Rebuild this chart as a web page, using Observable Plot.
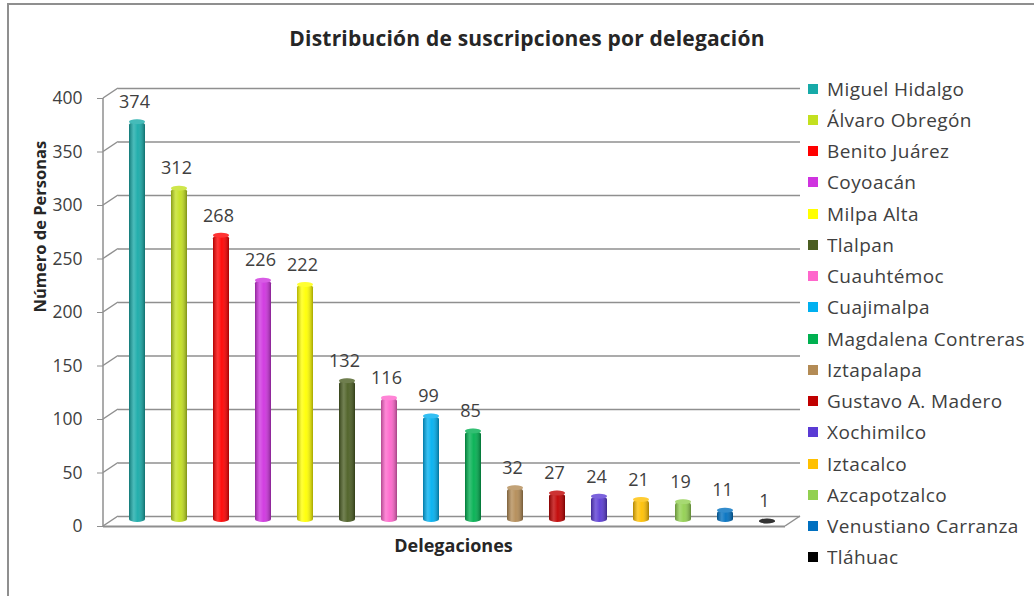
<!DOCTYPE html>
<html>
<head>
<meta charset="utf-8">
<script src="https://cdn.jsdelivr.net/npm/d3@7"></script>
<script src="https://cdn.jsdelivr.net/npm/@observablehq/plot@0.6"></script>
<style>
  html, body { margin: 0; padding: 0; background: #fff; }
  #wrap { position: relative; width: 1034px; height: 596px; overflow: hidden; background: #fff; font-family: "Open Sans", Lato, sans-serif; }
  #border { position: absolute; left: 7px; top: 3px; width: 1200px; height: 800px; border: 2px solid #8f8f8f; box-sizing: border-box; }
  #title { position: absolute; left: 0; top: 24px; width: 1054px; text-align: center; font-weight: bold; font-size: 21px; color: #262626; line-height: 28px; letter-spacing: 0.2px; }
  #chart { position: absolute; left: 0; top: 60px; }
  #legend { position: absolute; left: 808px; top: 73px; }
  #legend .lg-swatch { height: 31.25px !important; padding: 0 !important; margin: 0 !important; display: flex !important; align-items: center !important; letter-spacing: 0.4px; }
  #legend .lg-swatch svg { margin-right: 9px !important; }
</style>
</head>
<body>
<svg width="0" height="0" style="position:absolute">
  <defs>
    <linearGradient id="shine" x1="0" x2="1" y1="0" y2="0">
      <stop offset="0" stop-color="#000" stop-opacity="0.3"/>
      <stop offset="0.3" stop-color="#fff" stop-opacity="0.22"/>
      <stop offset="0.55" stop-color="#fff" stop-opacity="0.05"/>
      <stop offset="1" stop-color="#000" stop-opacity="0.35"/>
    </linearGradient>
  </defs>
</svg>
<div id="wrap">
  <div id="border"></div>
  <div id="title"></div>
  <div id="chart"></div>
  <div id="legend"></div>
</div>
<script>
const categories = ["Miguel Hidalgo", "Álvaro Obregón", "Benito Juárez", "Coyoacán", "Milpa Alta", "Tlalpan", "Cuauhtémoc", "Cuajimalpa", "Magdalena Contreras", "Iztapalapa", "Gustavo A. Madero", "Xochimilco", "Iztacalco", "Azcapotzalco", "Venustiano Carranza", "Tláhuac"];
const values = [374, 312, 268, 226, 222, 132, 116, 99, 85, 32, 27, 24, 21, 19, 11, 1];
const colors = ["#17aaa8", "#c3e01f", "#ff0000", "#cf33df", "#ffff00", "#4b5e22", "#ff66cc", "#00b0f0", "#00b050", "#b38b55", "#c00000", "#5a3bd4", "#ffc000", "#92d050", "#0070c0", "#000000"];
const yTicks = [0, 50, 100, 150, 200, 250, 300, 350, 400];
const title = "Distribución de suscripciones por delegación";
const xLabel = "Delegaciones";
const yLabel = "Número de Personas";

const data = categories.map((c, i) => ({delegacion: c, personas: values[i]}));

const FONT = "'Open Sans', Lato, sans-serif";
const DX = 15, DY = -10;
const GRID = "#8f8f8f";

// side wall connectors, axis line, right floor edge (drawn with the plot's own y scale)
function wall(index, scales, values, dimensions) {
  const y = scales.y;
  const x0 = dimensions.marginLeft;
  const x1 = dimensions.width - dimensions.marginRight;
  const g = d3.create("svg:g").attr("stroke", GRID).attr("stroke-width", 1.5).attr("fill", "none");
  const lo = d3.min(yTicks), hi = d3.max(yTicks);
  g.append("line").attr("x1", x0).attr("x2", x0).attr("y1", y(lo)).attr("y2", y(hi));
  for (const t of yTicks) {
    g.append("line").attr("x1", x0).attr("y1", y(t)).attr("x2", x0 + DX).attr("y2", y(t) + DY);
  }
  g.append("line").attr("x1", x1).attr("y1", y(lo)).attr("x2", x1 + DX).attr("y2", y(lo) + DY);
  return g.node();
}

const bar = {x: "delegacion", dx: 8, dy: -4, rx: 8, ry: 3};
const cap = {x: "delegacion", y1: "personas", y2: "personas", insetTop: -2.5, insetBottom: -2.5, dx: 8, dy: -4, rx: 8, ry: 2.5};

const chart = Plot.plot({
  width: 810,
  height: 520,
  marginLeft: 103,
  marginRight: 25,
  marginTop: 38,
  marginBottom: 54,
  style: {fontFamily: FONT, background: "transparent", overflow: "visible", color: "#404040"},
  x: {domain: categories, paddingInner: 0.62, paddingOuter: 0.3, axis: null},
  y: {domain: [0, 400], axis: null},
  color: {domain: categories, range: colors},
  marks: [
    Plot.ruleY(yTicks, {dx: DX, dy: DY, stroke: GRID, strokeWidth: 1.5}),
    wall,
    Plot.ruleY([0], {stroke: GRID, strokeWidth: 2.2}),
    Plot.axisY({ticks: yTicks, label: null, tickSize: 6, tickPadding: 15, fontSize: 17.5, stroke: GRID, fill: "#404040"}),
    Plot.barY(data, {...bar, y: "personas", fill: "delegacion"}),
    Plot.barY(data, {...bar, y: "personas", fill: "url(#shine)"}),
    Plot.barY(data, {...cap, fill: "delegacion"}),
    Plot.barY(data, {...cap, fill: "#fff", fillOpacity: 0.2}),
    Plot.text(data, {x: "delegacion", y: "personas", text: d => String(d.personas), dx: 5, dy: -24, fontSize: 18, fill: "#404040"}),
    Plot.text([xLabel], {frameAnchor: "bottom", dx: 9, dy: 25, fontSize: 18, fontWeight: "bold", fill: "#262626", letterSpacing: 0.7}),
    Plot.text([yLabel], {frameAnchor: "left", dx: -63, rotate: -90, fontSize: 16.5, fontWeight: "bold", fill: "#262626"})
  ]
});
document.getElementById("chart").appendChild(chart);
document.getElementById("title").textContent = title;

const legend = Plot.legend({
  color: {type: "ordinal", domain: categories, range: colors},
  legend: "swatches",
  columns: 1,
  swatchSize: 10,
  className: "lg",
  style: {fontFamily: FONT, fontSize: "19px", color: "#404040"}
});
document.getElementById("legend").appendChild(legend);
</script>
</body>
</html>
